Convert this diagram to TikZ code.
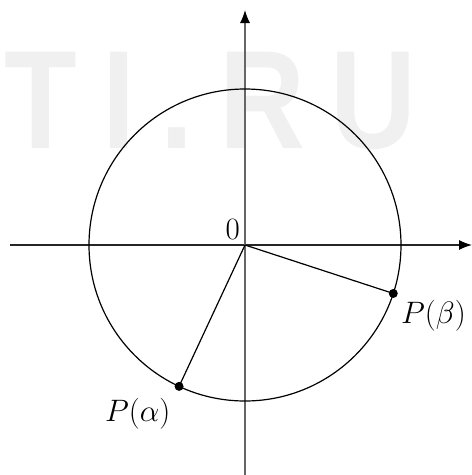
\RequirePackage{fix-cm}
\documentclass[tikz,border=0pt]{standalone}
\usepackage{fontspec}
\newfontfamily\wmfont{Liberation Sans}
\usetikzlibrary{arrows.meta,calc}
\tikzset{
  wm/.style={text=black!6, font=\wmfont\bfseries\fontsize{140}{140}\selectfont, anchor=base, inner sep=0pt, xscale=0.85},
  lbl/.style={font=\fontsize{31}{37}\selectfont, inner sep=0pt},
  axis/.style={line width=1.3pt, -{Latex[length=13pt,width=10pt,color=black]}},
  curve/.style={line width=1.2pt, black},
  pt/.style={circle, fill=black, inner sep=0pt, minimum size=9pt}
}
\begin{document}
\begin{tikzpicture}[x=1pt,y=-1pt]
\useasboundingbox (0,0) rectangle (472,475);
% watermark
\node[wm] (wT) at (41,148) {T};
\node[wm] (wI) at (119,148) {I};
\node[wm] (wd) at (177,148) {.};
\node[wm] (wR) at (262,148) {R};
\node[wm] (wU) at (373,148) {U};
% axes
\coordinate (O) at (245,245);
\coordinate (xl) at (10,245);
\coordinate (xr) at (472,245);
\coordinate (yb) at (245,475);
\coordinate (yt) at (245,10);
\draw[axis, black!85] (xl) -- (xr);
\draw[axis, black!60] (yb) -- (yt);
% circle
\draw[curve] (O) circle (156);
% points
\node[pt] (Pb) at ($(O)+(18.1:156)$) {};
\node[pt] (Pa) at ($(O)+(115:156)$) {};
\draw[curve] (O) -- (Pb.center);
\draw[curve] (O) -- (Pa.center);
% labels
\node[lbl, anchor=base east] (l0) at (240,239) {$0$};
\node[lbl, anchor=base west] (lb) at (401,323) {$P(\beta)$};
\node[lbl, anchor=base west] (la) at (105,421) {$P(\alpha)$};
\end{tikzpicture}
\end{document}
